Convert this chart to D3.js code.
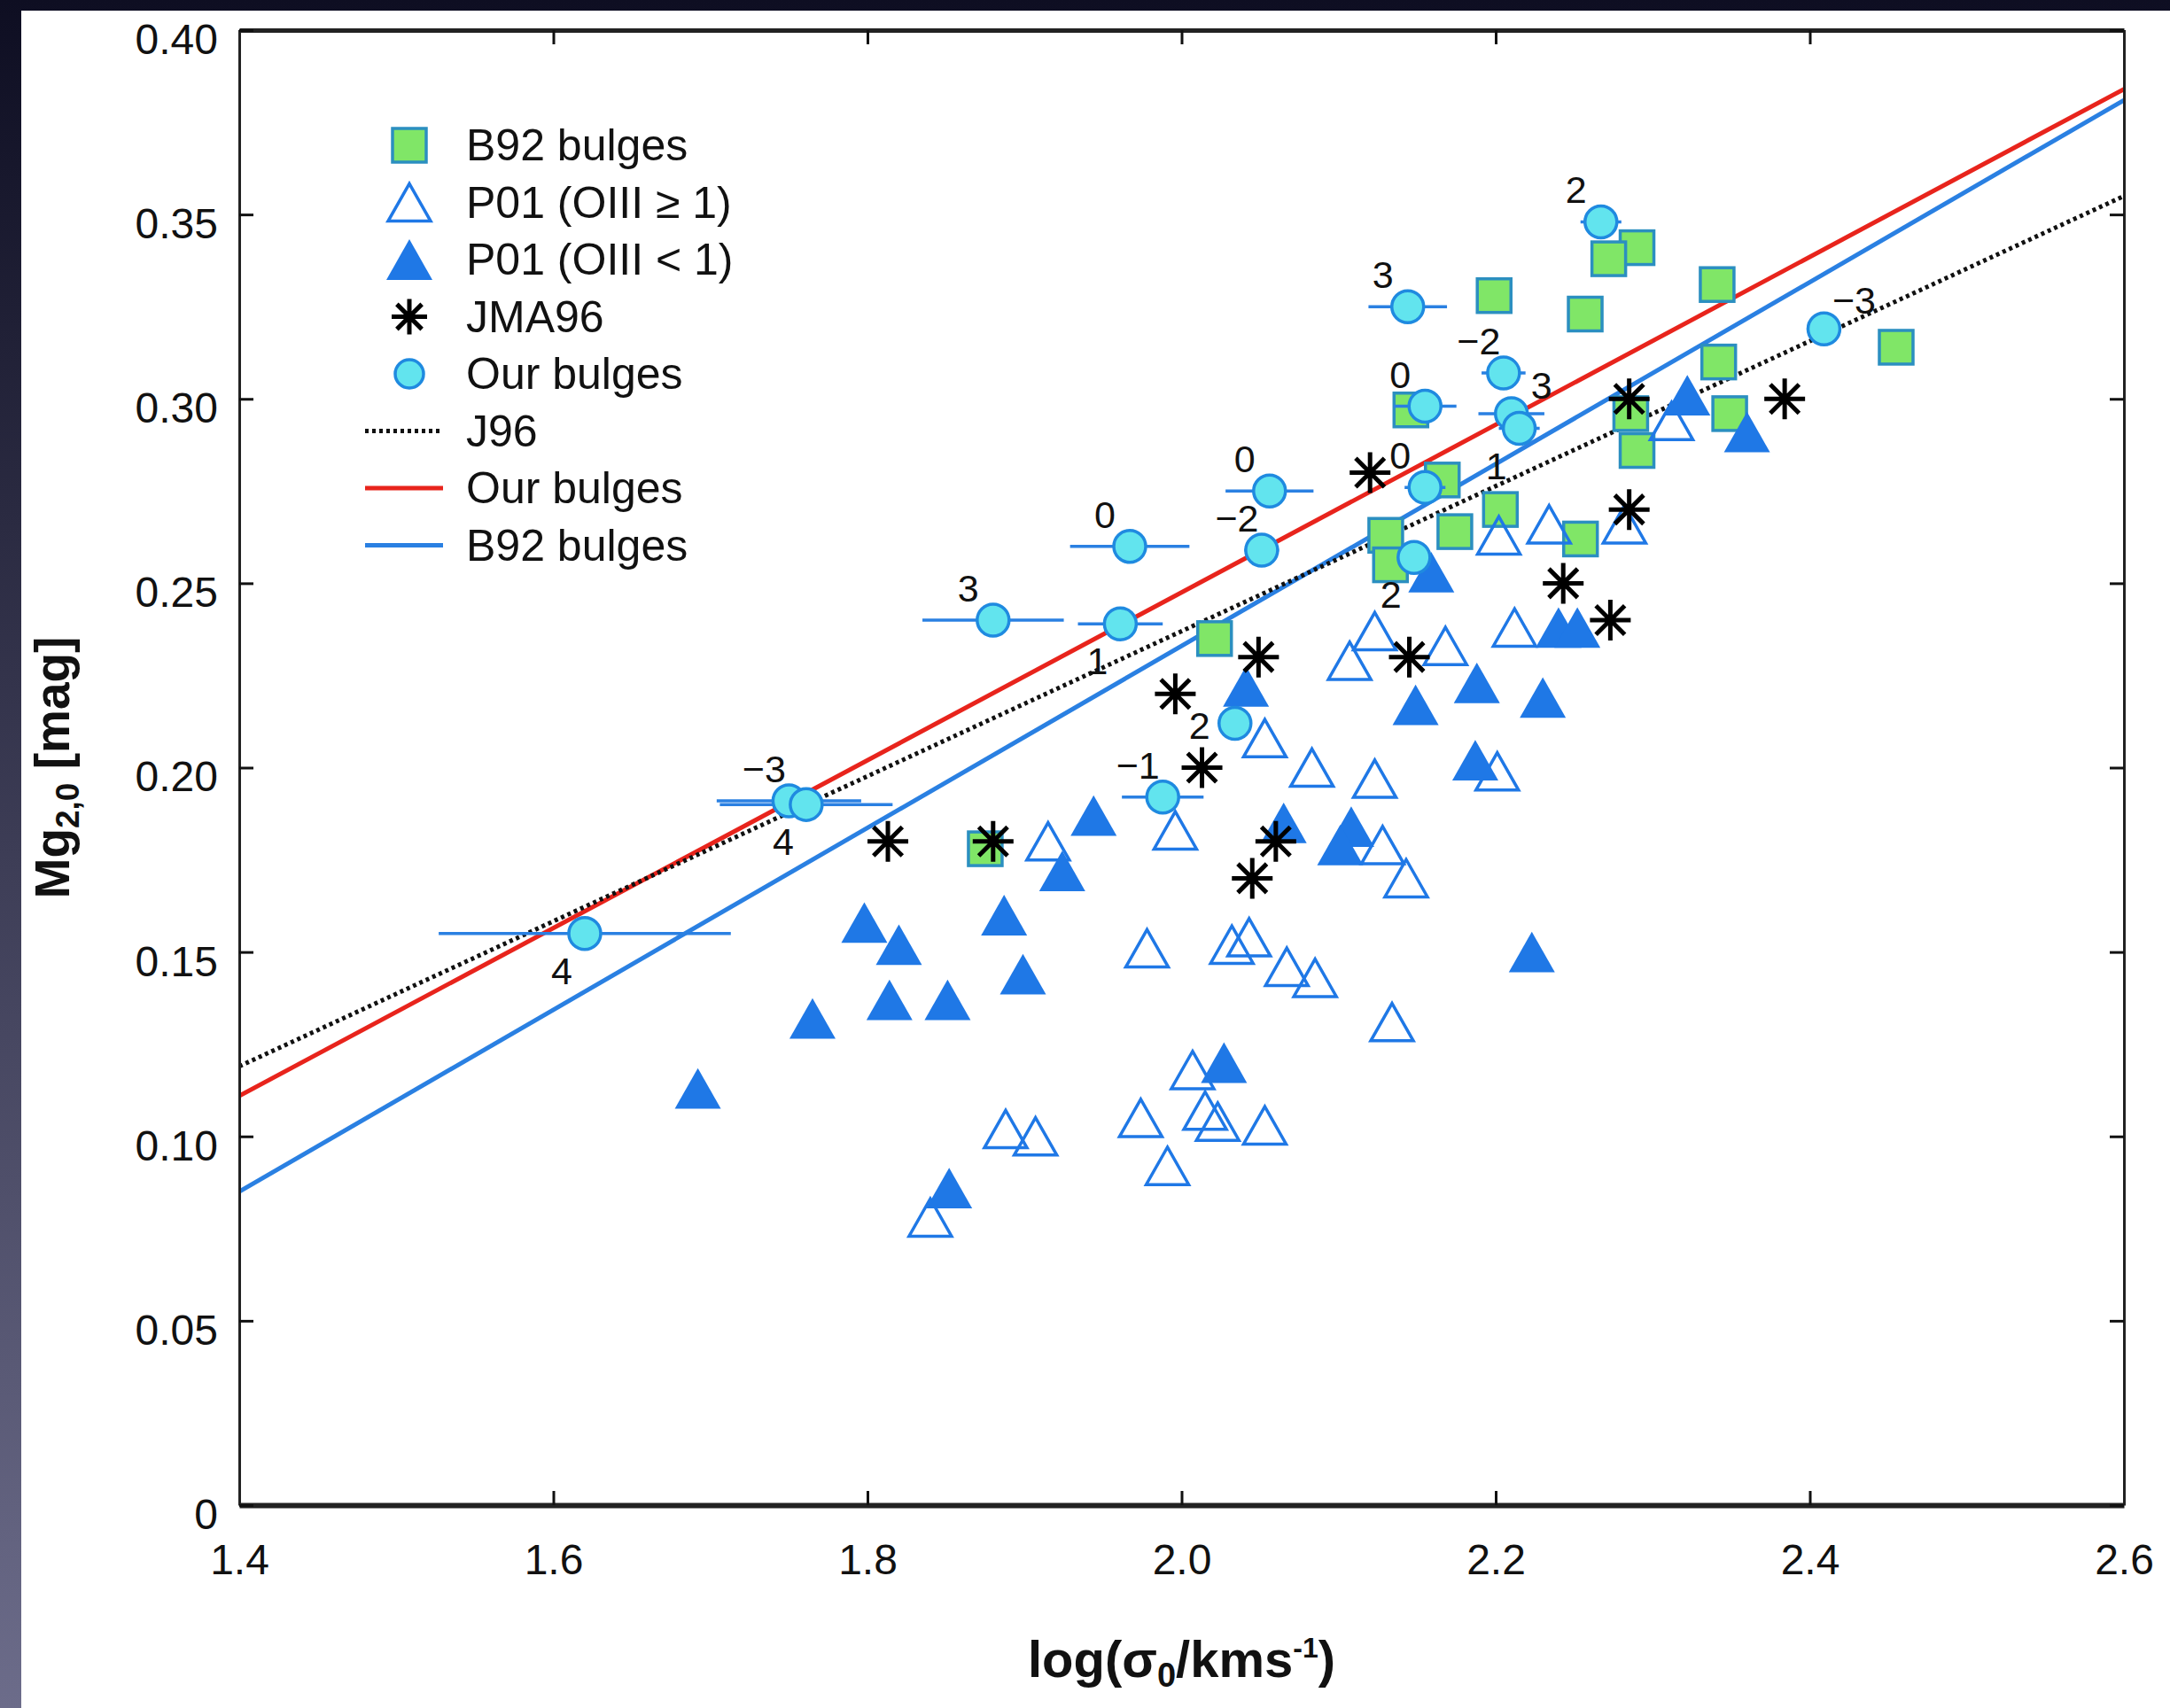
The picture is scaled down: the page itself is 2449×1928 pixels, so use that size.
<!DOCTYPE html>
<html>
<head>
<meta charset="utf-8">
<script src="https://cdn.jsdelivr.net/npm/d3@7"></script>
<style>
  body { margin: 0; background: #101026; }
  text { font-family: "Liberation Sans", Arial, sans-serif; fill: #111; }
</style>
</head>
<body>
<div id="chart"></div>
<script>
// ---- data ----
const xTicks = [1.4, 1.6, 1.8, 2.0, 2.2, 2.4, 2.6];
const yTicks = [0, 0.05, 0.10, 0.15, 0.20, 0.25, 0.30, 0.35, 0.40];

// B92 bulges (squares): [logSigma, Mg2]
const b92 = [
  [2.290, 0.341], [2.272, 0.338], [2.199, 0.328], [2.257, 0.323], [2.341, 0.331],
  [2.455, 0.314], [2.342, 0.310], [2.146, 0.297], [2.349, 0.296], [2.286, 0.296],
  [2.290, 0.286], [2.166, 0.278], [2.203, 0.270], [2.174, 0.264], [2.130, 0.263],
  [2.254, 0.262], [2.133, 0.255], [2.021, 0.235], [1.875, 0.178]
];

// P01, OIII >= 1 (open triangles)
const p01Open = [
  [2.312, 0.294], [2.234, 0.266], [2.202, 0.263], [2.282, 0.266], [2.212, 0.238],
  [2.123, 0.237], [2.107, 0.229], [2.168, 0.233], [2.053, 0.208], [2.083, 0.200],
  [2.123, 0.197], [2.201, 0.199], [1.996, 0.183], [1.915, 0.180], [2.128, 0.179],
  [2.143, 0.170], [1.978, 0.151], [2.032, 0.152], [2.043, 0.154], [2.067, 0.146],
  [2.085, 0.143], [2.134, 0.131], [2.007, 0.118], [1.974, 0.105], [2.015, 0.107],
  [2.023, 0.104], [2.053, 0.103], [1.991, 0.092], [1.907, 0.100], [1.888, 0.102],
  [1.840, 0.078]
];

// P01, OIII < 1 (filled triangles)
const p01Filled = [
  [2.322, 0.301], [2.360, 0.291], [2.159, 0.253], [2.240, 0.238], [2.252, 0.238],
  [2.041, 0.222], [2.188, 0.223], [2.230, 0.219], [2.149, 0.217], [2.187, 0.202],
  [1.944, 0.187], [2.065, 0.185], [2.108, 0.184], [2.101, 0.179], [1.924, 0.172],
  [1.798, 0.158], [1.820, 0.152], [1.887, 0.160], [1.899, 0.144], [1.765, 0.132],
  [1.814, 0.137], [1.851, 0.137], [1.692, 0.113], [2.027, 0.120], [1.852, 0.086],
  [2.223, 0.150]
];

// JMA96 (asterisks)
const jma96 = [
  [2.285, 0.30], [2.384, 0.30], [2.120, 0.28], [2.285, 0.27], [2.243, 0.25],
  [2.273, 0.24], [2.049, 0.23], [2.145, 0.23], [1.996, 0.22], [2.013, 0.20],
  [1.813, 0.18], [1.880, 0.18], [2.060, 0.18], [2.045, 0.17]
];

// our bulges: [logSigma, Mg2, error in logSigma, T-type label]
const ours = [
  [2.267, 0.348, 0.013, "2"], [2.144, 0.325, 0.025, "3"], [2.205, 0.307, 0.014, "\u22122"],
  [2.155, 0.298, 0.020, "0"], [2.210, 0.296, 0.021, "3"], [2.215, 0.292, 0.013, "1"],
  [2.155, 0.276, 0.013, "0"], [2.148, 0.257, 0.009, "2"], [2.056, 0.275, 0.028, "0"],
  [2.051, 0.259, 0.011, "\u22122"], [1.967, 0.260, 0.038, "0"], [1.880, 0.240, 0.045, "3"],
  [1.961, 0.239, 0.027, "1"], [2.034, 0.212, 0.009, "2"], [1.988, 0.192, 0.026, "\u22121"],
  [1.750, 0.191, 0.046, "\u22123"], [1.761, 0.190, 0.055, "4"], [1.620, 0.155, 0.093, "4"],
  [2.409, 0.319, 0.011, "\u22123"]
];
// where each T-type label sits relative to its point
const labelSide = ["nw", "nw", "nw", "nw", "ne", "sw", "nw", "sw", "nw", "nw",
  "nw", "nw", "sw", "w", "nw", "nw", "sw", "sw", "ne"];

// fitted relations, end points at x = 1.4 and 2.6
const fitJ96 = [[1.4, 0.119], [2.6, 0.355]];
const fitOurs = [[1.4, 0.111], [2.6, 0.384]];
const fitB92 = [[1.4, 0.085], [2.6, 0.381]];

const legendNames = ["B92 bulges", "P01 (OIII \u2265 1)", "P01 (OIII < 1)", "JMA96",
  "Our bulges", "J96", "Our bulges", "B92 bulges"];

// ---- drawing ----
const W = 2449, H = 1928;
const margin = { left: 270, right: 52, top: 34, bottom: 229 };

const col = {
  tri: "#1f78e6",
  sqFill: "#80e667", sqStroke: "#2b8fc0",
  circFill: "#62e4ee", circStroke: "#1f8ae0",
  red: "#e8241c", blue: "#2a80e2"
};

const svg = d3.select("#chart").append("svg")
  .attr("width", W).attr("height", H);

const defs = svg.append("defs");
const grad = defs.append("linearGradient").attr("id", "bg")
  .attr("x1", 0).attr("y1", 0).attr("x2", 0).attr("y2", 1);
grad.append("stop").attr("offset", "0%").attr("stop-color", "#0e0e22");
grad.append("stop").attr("offset", "100%").attr("stop-color", "#6c6c8a");

svg.append("rect").attr("width", W).attr("height", H).attr("fill", "url(#bg)");
svg.append("rect").attr("x", 24).attr("y", 12)
  .attr("width", W - 24).attr("height", H - 12).attr("fill", "#fff");

const x = d3.scaleLinear().domain([1.4, 2.6]).range([margin.left, W - margin.right]);
const y = d3.scaleLinear().domain([0, 0.4]).range([H - margin.bottom, margin.top]);

const plot = svg.append("g");

// clip everything to the frame
defs.append("clipPath").attr("id", "clip").append("rect")
  .attr("x", x(1.4)).attr("y", y(0.4))
  .attr("width", x(2.6) - x(1.4)).attr("height", y(0) - y(0.4));

const inner = plot.append("g").attr("clip-path", "url(#clip)");

//fit lines
const line = d3.line().x(d => x(d[0])).y(d => y(d[1]));
inner.append("path").datum(fitOurs).attr("d", line)
  .attr("stroke", col.red).attr("stroke-width", 5).attr("fill", "none");
inner.append("path").datum(fitB92).attr("d", line)
  .attr("stroke", col.blue).attr("stroke-width", 5).attr("fill", "none");
inner.append("path").datum(fitJ96).attr("d", line)
  .attr("stroke", "#111").attr("stroke-width", 5).attr("stroke-dasharray", "4,4")
  .attr("fill", "none");

// marker shapes
const triPath = (s) => {
  const h = s * 0.88;
  return `M0,${-h / 2}L${s / 2},${h / 2}L${-s / 2},${h / 2}Z`;
};
const astPath = (r) => {
  let p = "";
  for (let k = 0; k < 4; k++) {
    const a = k * Math.PI / 4;
    const dx = r * Math.sin(a), dy = r * Math.cos(a);
    p += `M${-dx},${-dy}L${dx},${dy}`;
  }
  return p;
};

// squares
inner.selectAll(".sq").data(b92).join("rect")
  .attr("class", "sq")
  .attr("x", d => x(d[0]) - 19).attr("y", d => y(d[1]) - 19)
  .attr("width", 38).attr("height", 38)
  .attr("fill", col.sqFill).attr("stroke", col.sqStroke).attr("stroke-width", 3.5);

// open triangles
inner.selectAll(".otri").data(p01Open).join("path")
  .attr("class", "otri")
  .attr("transform", d => `translate(${x(d[0])},${y(d[1])})`)
  .attr("d", triPath(48))
  .attr("fill", "none").attr("stroke", col.tri).attr("stroke-width", 3.5);

// filled triangles
inner.selectAll(".ftri").data(p01Filled).join("path")
  .attr("class", "ftri")
  .attr("transform", d => `translate(${x(d[0])},${y(d[1])})`)
  .attr("d", triPath(52))
  .attr("fill", col.tri);

// asterisks
inner.selectAll(".ast").data(jma96).join("path")
  .attr("class", "ast")
  .attr("transform", d => `translate(${x(d[0])},${y(d[1])})`)
  .attr("d", astPath(23))
  .attr("stroke", "#000").attr("stroke-width", 5).attr("fill", "none");

// our bulges: error bars, circles, labels
inner.selectAll(".err").data(ours).join("line")
  .attr("class", "err")
  .attr("x1", d => x(d[0] - d[2])).attr("x2", d => x(d[0] + d[2]))
  .attr("y1", d => y(d[1])).attr("y2", d => y(d[1]))
  .attr("stroke", col.blue).attr("stroke-width", 3.5);

inner.selectAll(".circ").data(ours).join("circle")
  .attr("class", "circ")
  .attr("cx", d => x(d[0])).attr("cy", d => y(d[1]))
  .attr("r", 18)
  .attr("fill", col.circFill).attr("stroke", col.circStroke).attr("stroke-width", 3.5);

const offs = { nw: [-28, -36], sw: [-26, 42], ne: [34, -32], w: [-40, 2] };
inner.selectAll(".lab").data(ours).join("text")
  .attr("class", "lab")
  .attr("x", (d, i) => x(d[0]) + offs[labelSide[i]][0])
  .attr("y", (d, i) => y(d[1]) + offs[labelSide[i]][1])
  .attr("text-anchor", "middle").attr("dominant-baseline", "central")
  .attr("font-size", 43)
  .text(d => d[3]);

// axes with inward ticks on all sides
const tick = 16;
const fmtY = d => d === 0 ? "0" : d3.format(".2f")(d);

const gB = plot.append("g").attr("transform", `translate(0,${y(0)})`)
  .call(d3.axisBottom(x).tickValues(xTicks).tickFormat(d3.format(".1f"))
    .tickSize(-tick).tickSizeOuter(0).tickPadding(44));
const gT = plot.append("g").attr("transform", `translate(0,${y(0.4)})`)
  .call(d3.axisTop(x).tickValues(xTicks).tickFormat("").tickSize(-tick).tickSizeOuter(0));
const gL = plot.append("g").attr("transform", `translate(${x(1.4)},0)`)
  .call(d3.axisLeft(y).tickValues(yTicks).tickFormat(fmtY)
    .tickSize(-tick).tickSizeOuter(0).tickPadding(24));
const gR = plot.append("g").attr("transform", `translate(${x(2.6)},0)`)
  .call(d3.axisRight(y).tickValues(yTicks).tickFormat("").tickSize(-tick).tickSizeOuter(0));

[gB, gT, gL, gR].forEach(g => {
  g.selectAll("line").attr("stroke", "#111").attr("stroke-width", 3);
  g.selectAll("text").attr("font-size", 48).attr("fill", "#222")
    .attr("font-family", "'Liberation Sans', Arial, sans-serif");
});
gL.selectAll("text").attr("dy", "0.55em");
gB.select(".domain").attr("stroke", "#222").attr("stroke-width", 6);
gT.select(".domain").attr("stroke", "#222").attr("stroke-width", 5);
gL.select(".domain").attr("stroke", "#222").attr("stroke-width", 3);
gR.select(".domain").attr("stroke", "#222").attr("stroke-width", 3);

// axis titles
const yt = svg.append("text")
  .attr("transform", `translate(${78},${y(0.2)}) rotate(-90)`)
  .attr("text-anchor", "middle").attr("font-size", 55).attr("font-weight", "bold");
yt.append("tspan").text("Mg");
yt.append("tspan").attr("font-size", 37).attr("dy", 11).text("2,0");
yt.append("tspan").attr("dy", -11).text(" [mag]");

const xt = svg.append("text")
  .attr("x", (x(1.4) + x(2.6)) / 2).attr("y", 1893)
  .attr("text-anchor", "middle").attr("font-size", 58).attr("font-weight", "bold");
xt.append("tspan").text("log(\u03c3");
xt.append("tspan").attr("font-size", 38).attr("dy", 11).text("0");
xt.append("tspan").attr("dy", -11).text("/kms");
xt.append("tspan").attr("font-size", 32).attr("dy", -22).text("-1");
xt.append("tspan").attr("dy", 22).text(")");

// legend
const lg = plot.append("g");
const rowY = i => 164 + i * 64.5;
const mx = 462, tx = 526;
lg.selectAll("text").data(legendNames).join("text")
  .attr("x", tx).attr("y", (d, i) => rowY(i))
  .attr("dominant-baseline", "central")
  .attr("font-size", 50).attr("fill", "#1a1a1a")
  .text(d => d);

lg.append("rect").attr("x", mx - 19).attr("y", rowY(0) - 19).attr("width", 38).attr("height", 38)
  .attr("fill", col.sqFill).attr("stroke", col.sqStroke).attr("stroke-width", 3.5);
lg.append("path").attr("transform", `translate(${mx},${rowY(1)})`).attr("d", triPath(48))
  .attr("fill", "none").attr("stroke", col.tri).attr("stroke-width", 3.5);
lg.append("path").attr("transform", `translate(${mx},${rowY(2)})`).attr("d", triPath(52))
  .attr("fill", col.tri);
lg.append("path").attr("transform", `translate(${mx},${rowY(3)})`).attr("d", astPath(20))
  .attr("stroke", "#000").attr("stroke-width", 5);
lg.append("circle").attr("cx", mx).attr("cy", rowY(4)).attr("r", 16)
  .attr("fill", col.circFill).attr("stroke", col.circStroke).attr("stroke-width", 3.5);
lg.append("line").attr("x1", 412).attr("x2", 500).attr("y1", rowY(5)).attr("y2", rowY(5))
  .attr("stroke", "#111").attr("stroke-width", 5).attr("stroke-dasharray", "4,4");
lg.append("line").attr("x1", 412).attr("x2", 500).attr("y1", rowY(6)).attr("y2", rowY(6))
  .attr("stroke", col.red).attr("stroke-width", 5);
lg.append("line").attr("x1", 412).attr("x2", 500).attr("y1", rowY(7)).attr("y2", rowY(7))
  .attr("stroke", col.blue).attr("stroke-width", 5);
</script>
</body>
</html>
